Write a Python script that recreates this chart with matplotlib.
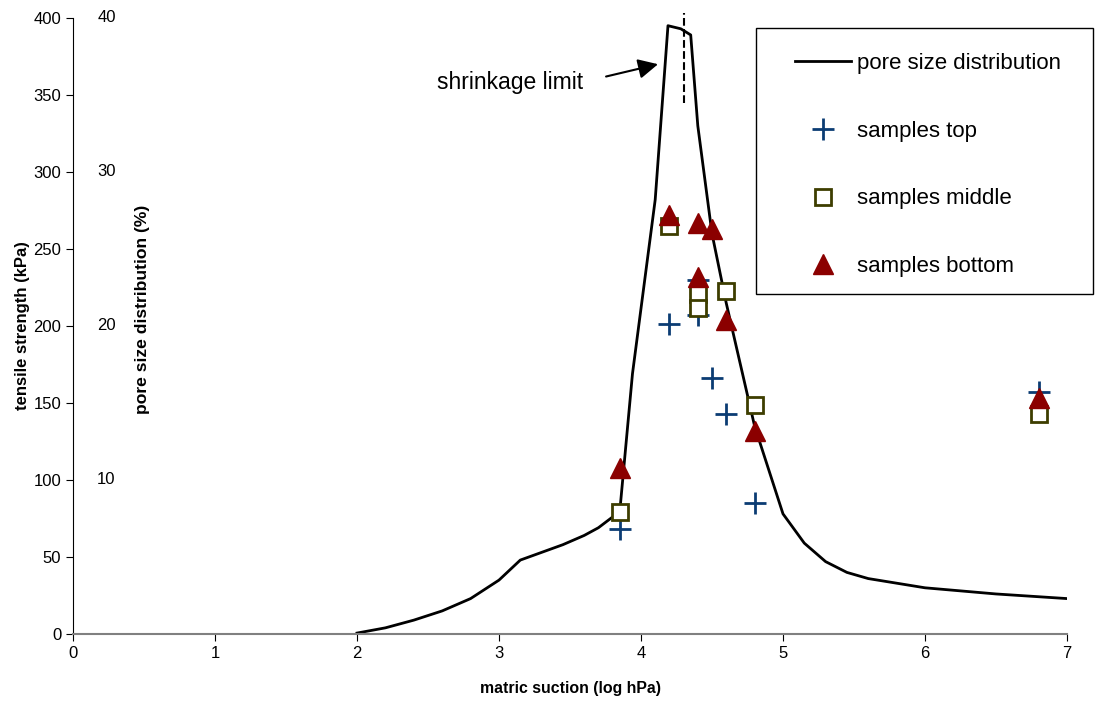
import matplotlib
matplotlib.use("Agg")
import matplotlib.pyplot as plt
from matplotlib.patches import Rectangle

plt.rcParams['font.family'] = ['Liberation Sans', 'DejaVu Sans']

# pore size distribution (%), plotted on the kPa scale (1 % = 10 kPa)
psd_x = [2.0, 2.2, 2.4, 2.6, 2.8, 3.0, 3.15, 3.3, 3.45, 3.6, 3.7, 3.8, 3.85,
         3.94, 4.1, 4.19, 4.28, 4.35, 4.4, 4.5, 4.6, 4.8, 5.0, 5.15, 5.3,
         5.45, 5.6, 6.0, 6.5, 7.0]
psd_pct = [0.06, 0.4, 0.9, 1.5, 2.3, 3.5, 4.8, 5.3, 5.8, 6.4, 6.9, 7.6, 7.9,
           16.9, 28.2, 39.5, 39.3, 38.9, 33.0, 26.0, 21.5, 13.5, 7.8, 5.9,
           4.7, 4.0, 3.6, 3.0, 2.6, 2.3]

top_x = [3.85, 4.2, 4.4, 4.4, 4.5, 4.6, 4.8, 6.8]
top_y = [68, 201, 230, 207, 166, 143, 85, 157]

mid_x = [3.85, 4.2, 4.4, 4.4, 4.6, 4.8, 6.8]
mid_y = [79, 265, 221, 212, 223, 149, 143]

bot_x = [3.85, 4.2, 4.4, 4.5, 4.4, 4.6, 4.8, 6.8]
bot_y = [108, 272, 267, 263, 232, 204, 132, 153]

shrinkage_limit = 4.3
psd_ticks = [10, 20, 30, 40]

fig = plt.figure(figsize=(10.97, 7.04), dpi=100)
ax = fig.add_axes([73 / 1097, 1 - 634 / 704, (1067 - 73) / 1097, (634 - 18) / 704])

ax.plot(psd_x, [p * 10 for p in psd_pct], color='black', lw=2,
        label='pore size distribution', zorder=2)
ax.plot(top_x, top_y, ls='none', marker='+', ms=16, mew=2, color='#0b3c73',
        label='samples top', zorder=3)
ax.plot(mid_x, mid_y, ls='none', marker='s', ms=11, mew=2, mfc='white',
        mec='#3d3d00', label='samples middle', zorder=4)
ax.plot(bot_x, bot_y, ls='none', marker='^', ms=14, color='#8b0000',
        label='samples bottom', zorder=5)

ax.plot([shrinkage_limit, shrinkage_limit], [345, 403], color='black',
        ls='--', lw=1.5, clip_on=False)
ax.annotate('', xy=(4.12, 370), xytext=(3.754, 362),
            arrowprops=dict(arrowstyle='-|>', color='black', lw=1.5,
                            mutation_scale=30, shrinkA=0, shrinkB=0))
ax.text(3.59, 358, 'shrinkage limit', fontsize=16.5, ha='right', va='center')

ax.set_xlim(0, 7)
ax.set_ylim(0, 400)
ax.set_xticks(range(0, 8))
ax.set_yticks(range(0, 401, 50))
ax.tick_params(direction='out', labelsize=12, length=5)
ax.spines['top'].set_visible(False)
ax.spines['right'].set_visible(False)
ax.spines['bottom'].set_color('#808080')
ax.spines['bottom'].set_linewidth(1.5)

ax.set_xlabel('matric suction (log hPa)', fontsize=11.4, fontweight='bold')
ax.xaxis.set_label_coords(0.5, (634 - 681) / 616)
ax.set_ylabel('tensile strength (kPa)', fontsize=12, fontweight='bold')
ax.yaxis.set_label_coords((30 - 73) / 994, 0.5)

# secondary axis labels for pore size distribution
for t in psd_ticks:
    ax.text(0.17, t * 10, str(t), fontsize=12, ha='left', va='center')
fig.text(143 / 1097, 1 - 309 / 704, 'pore size distribution (%)', rotation=90,
         fontsize=12.6, fontweight='bold', ha='center', va='center')

fig.patches.append(Rectangle((756 / 1097, 1 - 294 / 704), 337 / 1097, 266 / 704,
                             transform=fig.transFigure, fill=False,
                             edgecolor='black', lw=1))
leg = ax.legend(loc='upper left', bbox_to_anchor=(795 / 1097, 1 - 53 / 704),
                bbox_transform=fig.transFigure, fontsize=16, frameon=False,
                labelspacing=2.1, borderpad=0, handlelength=2.5,
                handletextpad=0.3, borderaxespad=0)

fig.savefig('out.png', dpi=100)
